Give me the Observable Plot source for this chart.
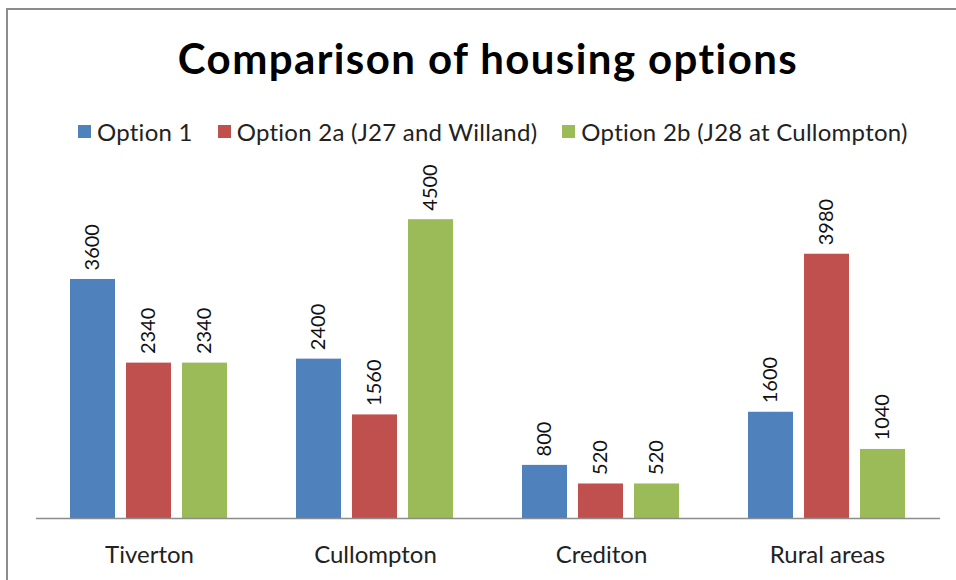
<!DOCTYPE html>
<html>
<head>
<meta charset="utf-8">
<script src="https://cdn.jsdelivr.net/npm/d3@7"></script>
<script src="https://cdn.jsdelivr.net/npm/@observablehq/plot@0.6"></script>
<style>
  html, body { margin: 0; padding: 0; background: #fff; overflow: hidden; }
  #wrap { position: relative; width: 956px; height: 580px; overflow: hidden; font-family: Lato, "Open Sans", sans-serif; }
  #frame { position: absolute; left: 6px; top: 8px; width: 2000px; height: 2000px; border-left: 2px solid #8c8c8c; border-top: 2px solid #8c8c8c; }
  #title { position: absolute; left: 10px; width: 956px; top: 33px; text-align: center; font-weight: bold; font-size: 42px; letter-spacing: 1.4px; color: #000; }
  #legend { position: absolute; left: 78px; top: 117px; display: flex; align-items: center; font-size: 24px; letter-spacing: 0.25px; color: #222; white-space: nowrap; }
  .item { display: flex; align-items: center; margin-right: 25px; }
  .sw { width: 13px; height: 13px; margin-right: 6px; }
  #chart { position: absolute; left: 0; top: 150px; }
</style>
</head>
<body>
<div id="wrap">
  <div id="frame"></div>
  <div id="title">Comparison of housing options</div>
  <div id="legend"></div>
  <div id="chart"></div>
</div>
<script>
const categories = ["Tiverton", "Cullompton", "Crediton", "Rural areas"];
const options = ["Option 1", "Option 2a (J27 and Willand)", "Option 2b (J28 at Cullompton)"];
const option1 = [3600, 2400, 800, 1600];
const option2a = [2340, 1560, 520, 3980];
const option2b = [2340, 4500, 520, 1040];
const colors = ["#4F81BD", "#C0504D", "#9BBB59"];

const series = [option1, option2a, option2b];
const data = [];
categories.forEach((c, i) => {
  options.forEach((o, j) => data.push({category: c, option: o, value: series[j][i]}));
});

const legend = document.getElementById("legend");
options.forEach((o, j) => {
  const it = document.createElement("div");
  it.className = "item";
  it.innerHTML = `<span class="sw" style="background:${colors[j]}"></span><span>${o}</span>`;
  legend.appendChild(it);
});

const chart = Plot.plot({
  width: 956,
  height: 430,
  marginTop: 36,
  marginBottom: 62,
  marginLeft: 36,
  marginRight: 16,
  style: {fontFamily: "Lato, 'Open Sans', sans-serif", background: "transparent", fontSize: "24px"},
  fx: {domain: categories, paddingInner: 0, paddingOuter: 0, label: null, axis: "bottom", tickSize: 0, tickPadding: 27},
  x: {domain: options, paddingInner: 0.19, paddingOuter: 0.6, axis: null},
  y: {domain: [0, 5000], axis: null},
  color: {domain: options, range: colors},
  marks: [
    Plot.barY(data, {fx: "category", x: "option", y: "value", fill: "option"}),
    Plot.ruleY([0], {stroke: "#8c8c8c", strokeWidth: 1.5}),
    Plot.text(data, {fx: "category", x: "option", y: "value", text: d => String(d.value), rotate: -90, textAnchor: "start", dy: -9, fontSize: 20, fill: "#111"})
  ]
});
chart.querySelectorAll("g[aria-label^='fx-axis'] text").forEach(t => { t.setAttribute("fill", "#222"); });
document.getElementById("chart").appendChild(chart);
</script>
</body>
</html>
